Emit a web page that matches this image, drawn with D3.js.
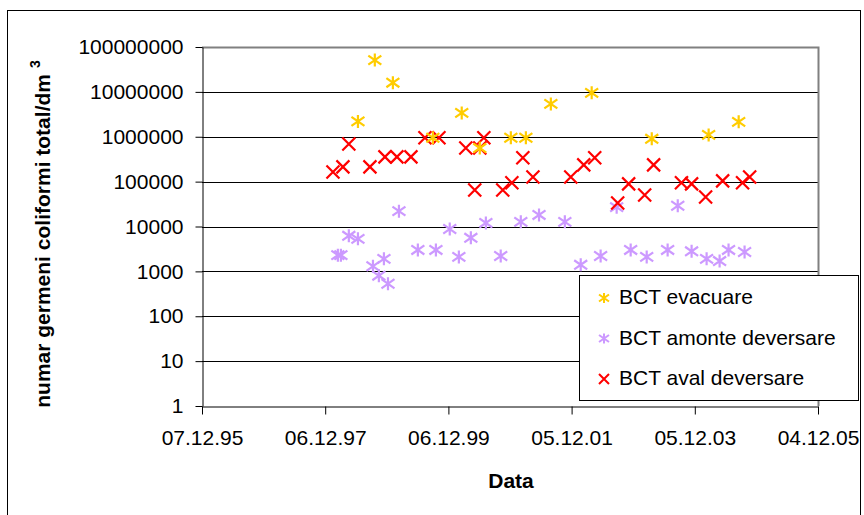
<!DOCTYPE html>
<html>
<head>
<meta charset="utf-8">
<script src="https://cdn.jsdelivr.net/npm/d3@7"></script>
<style>
  body { margin: 0; background: #fff; }
  svg { font-family: "Liberation Sans", Arial, sans-serif; }
</style>
</head>
<body>
<script>
// BCT evacuare
var evacDates = ["1998-06-18", "1998-09-26", "1999-01-11", "1999-09-05", "2000-02-23", "2000-06-09",
  "2000-12-10", "2001-03-09", "2001-08-04", "2002-04-03", "2003-03-25", "2004-02-25", "2004-08-21"];
var evacValues = [2200000, 51000000, 16000000, 950000, 3400000, 560000,
  950000, 950000, 5400000, 9500000, 900000, 1100000, 2150000];

// BCT amonte deversare
var amonteDates = ["1998-02-19", "1998-03-09", "1998-04-25", "1998-06-18", "1998-09-15", "1998-10-20",
  "1998-11-19", "1998-12-13", "1999-02-16", "1999-06-08", "1999-09-23", "1999-12-14", "2000-02-06",
  "2000-04-17", "2000-07-15", "2000-10-11", "2001-02-07", "2001-05-26", "2001-10-26", "2002-01-28",
  "2002-05-26", "2002-08-29", "2002-11-20", "2003-02-23", "2003-06-27", "2003-08-26", "2003-11-16",
  "2004-02-13", "2004-04-30", "2004-06-22", "2004-09-25"];
var amonteValues = [2300, 2300, 6200, 5300, 1300, 800,
  1900, 530, 22000, 3000, 3000, 8800, 2100,
  5600, 12000, 2200, 12700, 18100, 12700, 1400,
  2200, 27000, 3000, 2100, 3000, 29000, 2800,
  1900, 1700, 3000, 2700];

// BCT aval deversare
var avalDates = ["1998-01-21", "1998-03-21", "1998-04-25", "1998-08-28", "1998-11-25", "1999-02-04",
  "1999-04-28", "1999-07-20", "1999-10-11", "2000-03-18", "2000-05-10", "2000-06-09", "2000-07-03",
  "2000-10-23", "2000-12-16", "2001-02-19", "2001-04-20", "2001-11-30", "2002-02-15", "2002-04-21",
  "2002-09-04", "2002-11-08", "2003-02-11", "2003-04-05", "2003-09-17", "2003-11-16", "2004-02-07",
  "2004-05-18", "2004-09-13", "2004-10-25"];
var avalValues = [164000, 213000, 690000, 213000, 356000, 356000,
  356000, 950000, 950000, 564000, 65000, 564000, 950000,
  65000, 94000, 340000, 127000, 127000, 236000, 340000,
  33500, 89000, 50500, 236000, 94000, 89000, 45600,
  104000, 94000, 127000];

var xTicks = ["1995-12-07", "1997-12-06", "1999-12-06", "2001-12-05", "2003-12-05", "2005-12-04"];
var yTicks = [1, 10, 100, 1000, 10000, 100000, 1000000, 10000000, 100000000];

var width = 864, height = 515;
var plot = { left: 202, right: 818, top: 47, bottom: 406 };
var parse = d3.utcParse("%Y-%m-%d");

var svg = d3.select("body").append("svg")
  .attr("width", width)
  .attr("height", height);

// chart frame
svg.append("rect")
  .attr("x", 7.5).attr("y", 10.5)
  .attr("width", 853).attr("height", 520)
  .attr("fill", "#fff").attr("stroke", "#000");

var x = d3.scaleUtc()
  .domain([parse(xTicks[0]), parse(xTicks[xTicks.length - 1])])
  .range([plot.left, plot.right]);
var y = d3.scaleLog()
  .domain([1, 100000000])
  .range([plot.bottom, plot.top]);

// gridlines
svg.append("g")
  .selectAll("line")
  .data(yTicks.slice(1, -1))
  .enter()
  .append("line")
  .attr("x1", plot.left).attr("x2", plot.right)
  .attr("y1", function(d) { return Math.round(y(d)) + 0.5; })
  .attr("y2", function(d) { return Math.round(y(d)) + 0.5; })
  .attr("stroke", "#000");

// plot area border (top / right)
svg.append("path")
  .attr("d", "M" + plot.left + "," + (plot.top + 0.5) + "H" + (plot.right + 0.5) + "V" + plot.bottom)
  .attr("fill", "none")
  .attr("stroke", "#808080")
  .attr("stroke-width", 2);

var xAxis = d3.axisBottom(x)
  .tickValues(xTicks.map(parse))
  .tickFormat(d3.utcFormat("%d.%m.%y"))
  .tickSize(8)
  .tickSizeOuter(0)
  .tickPadding(16);
var yAxis = d3.axisLeft(y)
  .tickValues(yTicks)
  .tickFormat(d3.format("d"))
  .tickSize(7)
  .tickSizeOuter(0)
  .tickPadding(12);

svg.append("g")
  .attr("class", "axis")
  .attr("transform", "translate(0," + (plot.bottom + 0.5) + ")")
  .call(xAxis);
svg.append("g")
  .attr("class", "axis")
  .attr("transform", "translate(" + (plot.left + 0.5) + ",0)")
  .call(yAxis);

svg.selectAll(".axis path, .axis line").attr("stroke", "#000");
svg.selectAll(".axis text")
  .attr("font-family", "Liberation Sans, Arial, sans-serif")
  .attr("font-size", 21)
  .attr("fill", "#000");

// axis titles
svg.append("text")
  .attr("x", 511).attr("y", 488)
  .attr("text-anchor", "middle")
  .attr("font-size", 21)
  .attr("font-weight", "bold")
  .text("Data");

var yTitle = svg.append("text")
  .attr("transform", "translate(50,234) rotate(-90)")
  .attr("text-anchor", "middle")
  .attr("font-size", 21)
  .attr("font-weight", "bold");
yTitle.append("tspan").text("numar germeni coliformi total/dm");
yTitle.append("tspan")
  .attr("dx", 6).attr("dy", -10)
  .attr("font-size", 14)
  .text("3");

// markers
function starPath(s) {
  return "M0," + (-s) + "V" + s + "M" + (-s) + "," + (-s * 0.7) + "L" + s + "," + (s * 0.7) +
    "M" + (-s) + "," + (s * 0.7) + "L" + s + "," + (-s * 0.7);
}
function crossPath(s) {
  return "M" + (-s) + "," + (-s) + "L" + s + "," + s + "M" + (-s) + "," + s + "L" + s + "," + (-s);
}

var series = [
  { name: "BCT evacuare", dates: evacDates, values: evacValues, color: "#FFCC00", shape: starPath },
  { name: "BCT amonte deversare", dates: amonteDates, values: amonteValues, color: "#CC99FF", shape: starPath },
  { name: "BCT aval deversare", dates: avalDates, values: avalValues, color: "#FF0000", shape: crossPath }
];

// draw order as in the reference: amonte, aval, then evacuare on top
[series[1], series[2], series[0]].forEach(function(s) {
  svg.append("g")
    .selectAll("path")
    .data(s.values)
    .enter()
    .append("path")
    .attr("transform", function(d, i) {
      return "translate(" + x(parse(s.dates[i])) + "," + y(d) + ")";
    })
    .attr("d", s.shape(6.5))
    .attr("fill", "none")
    .attr("stroke", s.color)
    .attr("stroke-width", 2.2);
});

// legend
var legend = svg.append("g");
legend.append("rect")
  .attr("x", 579.5).attr("y", 275.5)
  .attr("width", 279).attr("height", 125)
  .attr("fill", "#fff")
  .attr("stroke", "#000");
var items = legend.selectAll("g.item")
  .data(series)
  .enter()
  .append("g")
  .attr("class", "item")
  .attr("transform", function(d, i) { return "translate(0," + (296 + i * 40.5) + ")"; });
items.append("path")
  .attr("transform", "translate(604,2)")
  .attr("d", function(d) { return d.shape(5); })
  .attr("fill", "none")
  .attr("stroke", function(d) { return d.color; })
  .attr("stroke-width", 2);
items.append("text")
  .attr("x", 619).attr("y", 8)
  .attr("font-size", 21)
  .text(function(d) { return d.name; });
</script>
</body>
</html>
